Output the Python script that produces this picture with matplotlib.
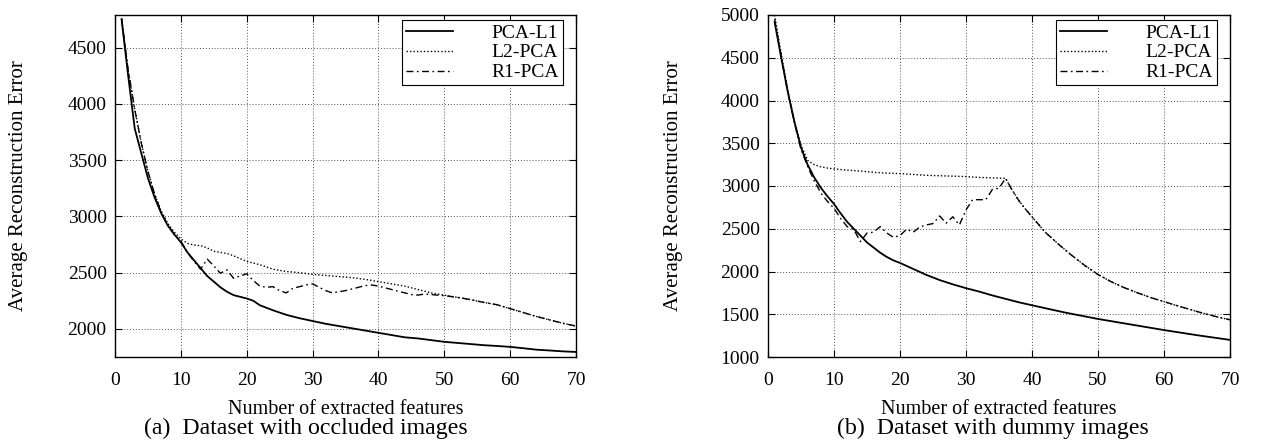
import matplotlib
matplotlib.use("Agg")
import matplotlib.pyplot as plt

plt.rcParams['font.family'] = ['Liberation Serif', 'DejaVu Serif']
plt.rcParams['mathtext.fontset'] = 'stix'

# ---------------- data: (a) occluded images ----------------
a_l1_x = [1, 2, 3, 4, 5, 6, 7, 8, 9, 10, 11, 12, 13, 14, 15, 16, 17, 18, 19, 20,
          21, 22, 24, 26, 28, 30, 32, 34, 36, 38, 40, 42, 44, 46, 48, 50, 52, 54,
          56, 58, 60, 62, 64, 66, 68, 70]
a_l1_y = [4750, 4250, 3780, 3560, 3340, 3170, 3030, 2920, 2840, 2770, 2680, 2610,
          2540, 2470, 2420, 2370, 2330, 2300, 2285, 2270, 2250, 2210, 2165, 2125,
          2095, 2070, 2045, 2025, 2005, 1985, 1965, 1945, 1925, 1915, 1900, 1885,
          1875, 1865, 1855, 1848, 1840, 1828, 1815, 1808, 1800, 1795]

a_l2_x = [1, 2, 3, 4, 5, 6, 7, 8, 9, 10, 11, 12, 13, 14, 15, 16, 17, 18, 19, 20,
          22, 24, 26, 28, 30, 32, 34, 36, 38, 40, 42, 44, 46, 48, 50, 52, 54, 56,
          58, 60, 62, 64, 66, 68, 70]
a_l2_y = [4760, 4300, 3950, 3650, 3400, 3200, 3050, 2940, 2860, 2800, 2760, 2745,
          2740, 2720, 2690, 2680, 2670, 2650, 2625, 2600, 2570, 2530, 2510, 2500,
          2485, 2475, 2465, 2455, 2440, 2420, 2400, 2380, 2350, 2320, 2300, 2280,
          2260, 2235, 2215, 2180, 2145, 2110, 2080, 2050, 2025]

a_r1_x = list(range(1, 51)) + [52, 54, 56, 58, 60, 62, 64, 66, 68, 70]
a_r1_y = [4760, 4300, 3950, 3650, 3400, 3200, 3040, 2920, 2840, 2780, 2680, 2600,
          2530, 2620, 2560, 2495, 2525, 2450, 2470, 2490, 2430, 2380, 2370, 2375,
          2340, 2320, 2360, 2375, 2390, 2400, 2370, 2340, 2320, 2330, 2340, 2355,
          2370, 2385, 2390, 2380, 2365, 2350, 2335, 2320, 2305, 2300, 2310, 2305,
          2300, 2295, 2280, 2260, 2235, 2215, 2180, 2145, 2110, 2080, 2050, 2025]

# ---------------- data: (b) dummy images ----------------
b_l1_x = [1, 2, 3, 4, 5, 6, 7, 8, 9, 10, 11, 12, 13, 14, 15, 16, 17, 18, 19, 20,
          22, 24, 26, 28, 30, 32, 34, 36, 38, 40, 45, 50, 55, 60, 65, 70]
b_l1_y = [4920, 4500, 4100, 3750, 3450, 3250, 3100, 2980, 2880, 2790, 2680, 2580,
          2500, 2420, 2340, 2280, 2220, 2170, 2130, 2100, 2030, 1960, 1900, 1850,
          1805, 1765, 1720, 1680, 1640, 1605, 1520, 1445, 1380, 1315, 1255, 1200]

b_l2_x = [1, 2, 3, 4, 5, 6, 7, 8, 9, 10, 12, 14, 16, 18, 20, 22, 24, 26, 28, 30,
          32, 34, 36, 37, 38, 39, 40, 42, 44, 46, 48, 50, 52, 54, 56, 58, 60, 62,
          64, 66, 68, 70]
b_l2_y = [5000, 4550, 4120, 3760, 3480, 3300, 3250, 3225, 3210, 3200, 3185, 3175,
          3160, 3150, 3145, 3135, 3125, 3120, 3115, 3110, 3100, 3095, 3090, 2950,
          2830, 2730, 2640, 2460, 2320, 2190, 2070, 1965, 1880, 1810, 1750, 1695,
          1648, 1600, 1555, 1510, 1470, 1435]

b_r1_x = list(range(1, 37)) + [37, 38, 39, 40, 42, 44, 46, 48, 50, 52, 54, 56, 58,
                               60, 62, 64, 66, 68, 70]
b_r1_y = [4950, 4520, 4100, 3740, 3430, 3230, 3060, 2920, 2820, 2740, 2620, 2525,
          2490, 2350, 2450, 2460, 2525, 2450, 2400, 2420, 2495, 2460, 2520, 2545,
          2560, 2650, 2565, 2640, 2545, 2720, 2840, 2840, 2840, 2960, 2975, 3090,
          2950, 2830, 2730, 2640, 2460, 2320, 2190, 2070, 1965, 1880, 1810, 1750,
          1695, 1648, 1600, 1555, 1510, 1470, 1435]

series_labels = ["PCA-L1", "L2-PCA", "R1-PCA"]
x_ticks = [0, 10, 20, 30, 40, 50, 60, 70]
a_yticks = [2000, 2500, 3000, 3500, 4000, 4500]
b_yticks = [1000, 1500, 2000, 2500, 3000, 3500, 4000, 4500, 5000]
xlabel = "Number of extracted features"
ylabel = "Average Reconstruction Error"
captions = ["(a)  Dataset with occluded images", "(b)  Dataset with dummy images"]

W, H = 1262, 443
fig = plt.figure(figsize=(W / 100, H / 100), dpi=100)

def px_axes(l, t, r, b):
    return fig.add_axes([l / W, 1 - b / H, (r - l) / W, (b - t) / H])

ax_a = px_axes(115, 15, 576, 357)
ax_b = px_axes(768, 15, 1230, 357)

styles = [dict(color='black', lw=1.3, ls='-'),
          dict(color='black', lw=1.0, ls=(0, (1, 1.5))),
          dict(color='black', lw=1.0, ls=(0, (5, 2.5, 1.2, 2.5)))]

def draw(ax, xs, ys, ylim, yticks, lab_off):
    for x, y, st, lab in zip(xs, ys, styles, series_labels):
        ax.plot(x, y, label=lab, **st)
    ax.set_xlim(0, 70)
    ax.set_ylim(*ylim)
    ax.set_xticks(x_ticks)
    ax.set_yticks(yticks)
    ax.grid(True, color='#555555', ls=(0, (1, 2)), lw=0.7)
    ax.tick_params(direction='in', top=True, right=True, labelsize=14,
                   length=5, width=0.8, pad=11)
    ax.tick_params(axis='y', pad=6)
    for s in ax.spines.values():
        s.set_linewidth(1.0)
    ax.set_ylabel(ylabel, fontsize=15)
    ax.yaxis.set_label_coords(-lab_off / 461, 0.5)
    leg = ax.legend(loc='upper right', fontsize=14, frameon=True, fancybox=False,
                    edgecolor='black', framealpha=1, handlelength=2.4,
                    borderpad=0.2, labelspacing=0.12, handletextpad=2.0,
                    borderaxespad=0.0, bbox_to_anchor=(1 - 13 / 461, 1 - 5 / 342))
    leg.get_frame().set_linewidth(0.8)

draw(ax_a, [a_l1_x, a_l2_x, a_r1_x], [a_l1_y, a_l2_y, a_r1_y], (1750, 4790), a_yticks, 87)
draw(ax_b, [b_l1_x, b_l2_x, b_r1_x], [b_l1_y, b_l2_y, b_r1_y], (1000, 5000), b_yticks, 85)

for ax in [ax_a, ax_b]:
    ax.text(0.5, -52 / 342, xlabel, transform=ax.transAxes, ha='center', va='center',
            fontsize=14.5)

for cx, cap in zip([306, 993], captions):
    fig.text(cx / W, 1 - 428 / H, cap, ha='center', va='center', fontsize=17.2)

fig.savefig("out.png", dpi=100)
